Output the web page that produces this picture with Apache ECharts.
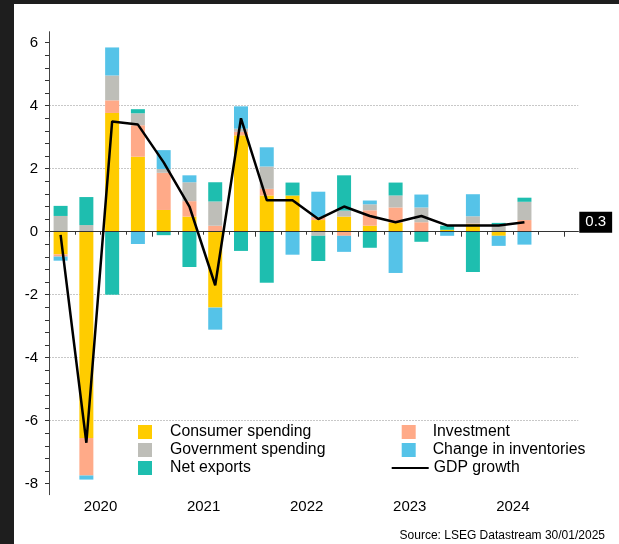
<!DOCTYPE html>
<html>
<head>
<meta charset="utf-8">
<title>GDP growth contributions</title>
<script src="https://cdn.jsdelivr.net/npm/echarts@6/dist/echarts.min.js"></script>
<style>
    html, body { margin: 0; padding: 0; background: #1e1e1e; width: 619px; height: 544px; overflow: hidden; }
    #chart { position: absolute; left: 14px; top: 4px; width: 605px; height: 540px; background: #fff; }
</style>
</head>
<body>
<div id="chart"></div>
<script>
// Quarterly contributions to GDP growth (percentage points), 2020 Q1 - 2024 Q3
const quarters = ["2020 Q1", "2020 Q2", "2020 Q3", "2020 Q4",
    "2021 Q1", "2021 Q2", "2021 Q3", "2021 Q4",
    "2022 Q1", "2022 Q2", "2022 Q3", "2022 Q4",
    "2023 Q1", "2023 Q2", "2023 Q3", "2023 Q4",
    "2024 Q1", "2024 Q2", "2024 Q3"];
const years = ["2020", "2021", "2022", "2023", "2024"];

const consumer    = [-0.72, -6.55, 3.77, 2.38, 0.69, 0.48, -2.41, 3.06, 1.15, 1.15, 0.37, 0.48, 0.19, 0.29, 0.00, 0.06, 0.24, -0.13, 0.00];
const investment  = [-0.07, -1.19, 0.40, 1.00, 1.18, 0.49, 0.19, 0.11, 0.21, 0.00, 0.10, -0.13, 0.49, 0.48, 0.30, 0.00, 0.02, 0.00, 0.37];
const government  = [0.50, 0.21, 0.79, 0.38, 0.12, 0.60, 0.77, 0.10, 0.71, 0.00, -0.13, 0.19, 0.19, 0.38, 0.47, 0.00, 0.23, 0.22, 0.58];
const netExports  = [0.32, 0.89, -2.00, 0.13, -0.11, -1.12, 0.61, -0.61, -1.62, 0.41, -0.80, 1.12, -0.51, 0.41, -0.32, 0.13, -1.28, 0.06, 0.13];
const inventories = [-0.13, -0.13, 0.89, -0.39, 0.60, 0.22, -0.70, 0.71, 0.61, -0.73, 0.80, -0.51, 0.12, -1.31, 0.41, -0.13, 0.70, -0.32, -0.41];
const gdpGrowth   = [-0.1, -6.7, 3.5, 3.4, 2.2, 0.8, -1.7, 3.6, 1.0, 1.0, 0.4, 0.8, 0.5, 0.3, 0.5, 0.2, 0.2, 0.2, 0.3];

const yTickValues = [-8, -6, -4, -2, 0, 2, 4, 6];

const FONT = "Liberation Sans, Arial, sans-serif";
const COLORS = {
    consumer: "#ffcc00",
    investment: "#ffaa88",
    government: "#bebeb8",
    netExports: "#1ebeaf",
    inventories: "#55c3e8"
};

// Layout of the plot area (inside the white panel)
const Y_MIN = -8.35, Y_MAX = 6.35;
const PLOT = { left: 35, top: 27.7, right: 40.7, bottom: 49.3 };
const QUARTER_PX = 25.77;        // width of one quarter on the time axis
const BAR_SHIFT = 0.05;          // bars sit a touch left of the quarter's middle

// The axis frame runs in quarter units from the start of 2020 (a bit past 2024),
// the bars use their own category grid that covers only the quarters with data.
const toPoints = values => values.map((v, i) => [i + 0.5 - BAR_SHIFT, v]);

function barSeries(name, values, color) {
    return {
        name: name,
        type: "bar",
        stack: "contrib",
        xAxisIndex: 1,
        yAxisIndex: 1,
        barWidth: 14,
        itemStyle: { color: color },
        emphasis: { disabled: true },
        data: values
    };
}

const lastGdp = gdpGrowth[gdpGrowth.length - 1];

const legendText = { fontFamily: FONT, fontSize: 15.8, color: "#000" };

const chart = echarts.init(document.getElementById("chart"), null, { renderer: "canvas" });

chart.setOption({
    animation: false,
    backgroundColor: "#fff",
    grid: [
        PLOT,
        {
            left: PLOT.left - BAR_SHIFT * QUARTER_PX,
            top: PLOT.top,
            bottom: PLOT.bottom,
            width: quarters.length * QUARTER_PX
        }
    ],
    xAxis: [
        {
            type: "value",
            gridIndex: 0,
            min: 0,
            max: 20.54,
            interval: 4,
            axisLine: { lineStyle: { color: "#333", width: 1 } },
            axisTick: { length: 5, lineStyle: { color: "#333" }, customValues: [0, 4, 8, 12, 16, 20] },
            minorTick: { show: true, splitNumber: 4, length: 3, lineStyle: { color: "#333" } },
            splitLine: { show: false },
            axisLabel: {
                customValues: [2, 6, 10, 14, 18],
                formatter: v => years[Math.round((v - 2) / 4)] || "",
                fontFamily: FONT, fontSize: 15, color: "#000", margin: 5
            }
        },
        {
            type: "category",
            gridIndex: 1,
            data: quarters,
            show: false
        }
    ],
    yAxis: [
        {
            type: "value",
            gridIndex: 0,
            min: Y_MIN,
            max: Y_MAX,
            splitNumber: 7,
            axisLine: { show: true, lineStyle: { color: "#444", width: 1 } },
            axisTick: { show: true, length: 4, lineStyle: { color: "#333" }, customValues: yTickValues },
            minorTick: { show: true, splitNumber: 5, length: 4, lineStyle: { color: "#333" } },
            splitLine: {
                show: true, showMinLine: false, showMaxLine: false,
                lineStyle: { color: "#c8c8c8", type: [2, 1], width: 1 }
            },
            axisLabel: {
                formatter: v => yTickValues.indexOf(Math.round(v * 100) / 100) >= 0 ? String(Math.round(v)) : "",
                fontFamily: FONT, fontSize: 15, color: "#000", margin: 11
            }
        },
        {
            type: "value",
            gridIndex: 1,
            min: Y_MIN,
            max: Y_MAX,
            show: false,
            splitLine: { show: false }
        }
    ],
    legend: [
        {
            data: ["Consumer spending", "Government spending", "Net exports"],
            orient: "vertical", left: 124, top: 420, padding: 0,
            icon: "rect", itemWidth: 14, itemHeight: 14, itemGap: 2,
            selectedMode: false,
            textStyle: Object.assign({ padding: [0, 0, 0, 13] }, legendText)
        },
        {
            data: ["Investment", "Change in inventories"],
            orient: "vertical", left: 387.7, top: 420, padding: 0,
            icon: "rect", itemWidth: 14, itemHeight: 14, itemGap: 2,
            selectedMode: false,
            textStyle: Object.assign({ padding: [0, 0, 0, 12] }, legendText)
        },
        {
            data: ["GDP growth"],
            orient: "vertical", left: 376.7, top: 456, padding: 0,
            itemWidth: 37, itemHeight: 14,
            itemStyle: { opacity: 0 },
            selectedMode: false,
            textStyle: legendText
        }
    ],
    graphic: [
        {
            type: "text",
            right: 14, top: 526,
            style: { text: "Source: LSEG Datastream 30/01/2025", fontFamily: FONT, fontSize: 12, fill: "#000" }
        }
    ],
    series: [
        barSeries("Consumer spending", consumer, COLORS.consumer),
        barSeries("Investment", investment, COLORS.investment),
        barSeries("Government spending", government, COLORS.government),
        barSeries("Net exports", netExports, COLORS.netExports),
        barSeries("Change in inventories", inventories, COLORS.inventories),
        {
            name: "GDP growth",
            type: "line",
            xAxisIndex: 0,
            yAxisIndex: 0,
            symbol: "none",
            clip: false,
            z: 5,
            lineStyle: { color: "#000", width: 2.5 },
            itemStyle: { color: "#000" },
            emphasis: { disabled: true },
            data: toPoints(gdpGrowth),
            markLine: {
                silent: true,
                symbol: ["none", "none"],
                animation: false,
                data: [
                    { yAxis: 0, lineStyle: { color: "#333", width: 1, type: "solid" }, label: { show: false } },
                    {
                        yAxis: lastGdp,
                        lineStyle: { color: "rgba(0,0,0,0)", width: 1 },
                        label: {
                            show: true, position: "end", distance: 1,
                            formatter: String(lastGdp),
                            backgroundColor: "#000", color: "#fff",
                            fontFamily: FONT, fontSize: 15, padding: [3, 6, 3, 6]
                        }
                    }
                ]
            }
        }
    ]
});
</script>
</body>
</html>
